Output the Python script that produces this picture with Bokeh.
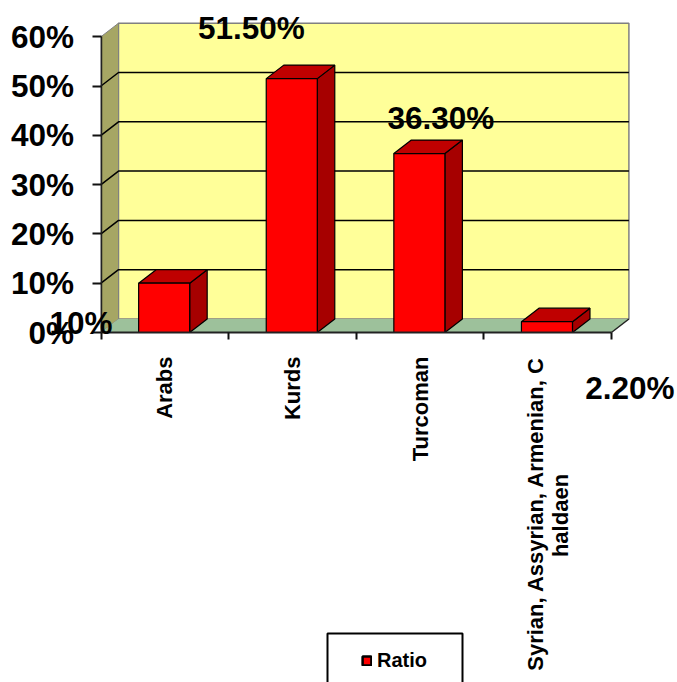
import math

from bokeh.embed import file_html
from bokeh.models import (BoxAnnotation, FixedTicker, Label, Legend, LegendItem,
                          LinearAxis, PrintfTickFormatter, Range1d)
from bokeh.plotting import figure
from bokeh.resources import INLINE

# Chart data
categories = ["Arabs", "Kurds", "Turcoman", "Syrian, Assyrian, Armenian, C\nhaldaen"]
ratios = [10.0, 51.5, 36.3, 2.2]
value_labels = ["10%", "51.50%", "36.30%", "2.20%"]
percent_ticks = [0, 10, 20, 30, 40, 50, 60]
series_name = "Ratio"

# Free-floating placement of the value labels (left edge, vertical middle)
label_x = [-0.38 - 0.023, 0.76, 2.245, 3.795]
label_y = [2.0, 61.7, 43.6, -11.2]

# Scale of the plot area: pixels per category and per percentage point
PX_X = 127.6
PX_Y = 4.93
# Page position of the axis origin
X0 = 100.5
Y0 = 332

# Oblique depth of the pseudo-3D box, in axis units
DX = 17.5 / PX_X
DY = 13.5 / PX_Y
BAR_W = 0.40
BAR_CENTRE = 0.495

FONT = "Liberation Sans"
WALL = "#FFFF99"
FLOOR = "#9DC19B"
SIDE_WALL = "#A6A664"
EDGE = "#808080"
RED = "#FF0000"
RED_SIDE = "#A60000"
RED_TOP = "#BF0000"

p = figure(width=677, height=682, output_backend="svg", toolbar_location=None,
           x_axis_type=None, y_axis_type=None,
           x_range=Range1d(-X0 / PX_X, (677 - X0) / PX_X),
           y_range=Range1d((Y0 - 682) / PX_Y, Y0 / PX_Y),
           min_border=0, outline_line_color=None,
           background_fill_color="white", border_fill_color="white")

n = len(categories)
top = percent_ticks[-1]

# Box walls and floor
p.patch([DX, n + DX, n + DX, DX], [DY, DY, top + DY, top + DY],
        fill_color=WALL, line_color=EDGE, line_width=1.5)
p.patch([0, DX, DX, 0], [0, DY, top + DY, top],
        fill_color=SIDE_WALL, line_color=EDGE, line_width=1)
p.patch([0, n, n + DX, DX], [0, 0, DY, DY],
        fill_color=FLOOR, line_color=None)
p.line([n, n + DX], [0, DY], line_color="#222222", line_width=1.5)

# Gridlines run along the back wall and fold down the side wall
for t in percent_ticks[1:-1]:
    p.line([0, DX, n + DX], [t, t + DY, t + DY], line_color="black", line_width=1.5)

# Bars: front face plus the oblique side and top faces
bar_left = [i + BAR_CENTRE - BAR_W / 2 for i in range(n)]
bar_right = [i + BAR_CENTRE + BAR_W / 2 for i in range(n)]
for left, right, v in zip(bar_left, bar_right, ratios):
    p.patch([right, right + DX, right + DX, right], [0, DY, v + DY, v],
            fill_color=RED_SIDE, line_color="black", line_width=1.2)
    p.patch([left, right, right + DX, left + DX], [v, v, v + DY, v + DY],
            fill_color=RED_TOP, line_color="black", line_width=1.2)
p.quad(left=bar_left, right=bar_right, bottom=0, top=ratios,
       fill_color=RED, line_color="black", line_width=1.2)

# Value axis
yaxis = LinearAxis(ticker=FixedTicker(ticks=percent_ticks),
                   formatter=PrintfTickFormatter(format="%d%%"),
                   fixed_location=0,
                   bounds=(0, top), axis_line_color="#222222", axis_line_width=1.5,
                   major_tick_in=0, major_tick_out=9, major_tick_line_width=2,
                   major_tick_line_color="#111111", minor_tick_line_color=None,
                   major_label_standoff=18,
                   major_label_text_font=FONT, major_label_text_font_style="bold",
                   major_label_text_font_size="31.5px", major_label_text_color="black")
p.add_layout(yaxis, "left")

# Category axis: labels sit on the bar centres, tick marks between the bars.
# The last name wraps, so its first line sits left of centre and the rest follows it.
first_line, wrapped_line = categories[3].split("\n")
label_ticks = [0.5, 1.5, 2.5, 3.405]
label_names = categories[:3] + [first_line]
xaxis = LinearAxis(ticker=FixedTicker(ticks=label_ticks, minor_ticks=list(range(n + 1))),
                   major_label_overrides={c: name for c, name in zip(label_ticks, label_names)},
                   major_label_orientation=math.pi / 2,
                   fixed_location=0,
                   bounds=(0, n), axis_line_color="#222222", axis_line_width=2,
                   major_tick_in=0, major_tick_out=0,
                   minor_tick_in=0, minor_tick_out=7, minor_tick_line_width=2,
                   minor_tick_line_color="#111111", major_label_standoff=17,
                   major_label_text_font=FONT, major_label_text_font_style="bold",
                   major_label_text_font_size="22px", major_label_text_color="black")
p.add_layout(xaxis, "below")
p.add_layout(Label(x=(560 - X0) / PX_X, y=(Y0 - 515) / PX_Y, text=wrapped_line, angle=math.pi / 2,
                   text_font=FONT, text_font_style="bold", text_font_size="22px",
                   text_color="black", text_align="center", text_baseline="middle"))

# Value labels
for text, x, y in zip(value_labels, label_x, label_y):
    p.add_layout(Label(x=x, y=y, text=text, text_font=FONT, text_font_style="bold",
                       text_font_size="31.5px", text_color="black",
                       text_align="left", text_baseline="middle"))

# Legend box runs off the bottom edge of the page
p.add_layout(BoxAnnotation(left=(327 - X0) / PX_X, right=(462 - X0) / PX_X,
                           top=(Y0 - 633) / PX_Y, bottom=(Y0 - 695) / PX_Y,
                           fill_color="white", fill_alpha=1,
                           line_color="black", line_alpha=1, line_width=2, level="annotation"))
# The key uses a heavier outline than the bars, so it gets its own hidden renderer
swatch = p.quad(left=bar_left, right=bar_right, bottom=0, top=ratios,
                fill_color=RED, line_color="black", line_width=2.5, visible=False)
legend = Legend(items=[LegendItem(label=series_name, renderers=[swatch])],
                location=(361, 10), orientation="vertical",
                border_line_color=None, background_fill_alpha=0,
                padding=0, margin=0, label_standoff=5, glyph_width=11, glyph_height=11,
                label_text_font=FONT, label_text_font_style="bold",
                label_text_font_size="20px", label_text_color="black")
p.add_layout(legend, "center")

open("out.html", "w").write(file_html(p, INLINE))
